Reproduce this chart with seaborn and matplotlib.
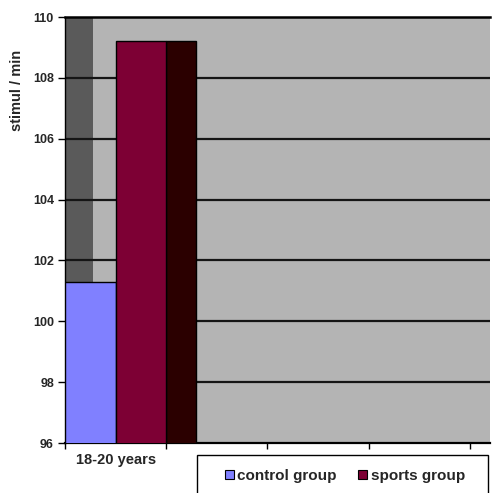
import matplotlib
matplotlib.use("Agg")
import matplotlib.pyplot as plt
from matplotlib.patches import Rectangle
import pandas as pd
import seaborn as sns

# Heart rate by age group
categories = ["18-20 years"]
groups = ["control group", "sports group"]
control_values = [101.3]
sports_values = [109.2]
y_ticks = [96, 98, 100, 102, 104, 106, 108, 110]

colors = {"control group": "#8080ff", "sports group": "#7d0034"}
side_color = "#2b0000"
wall_color = "#5a5a5a"
back_color = "#b4b4b4"

df = pd.DataFrame({
    "age": categories * 2,
    "group": [groups[0]] * len(categories) + [groups[1]] * len(categories),
    "rate": control_values + sports_values,
})

sns.set_style("white")
plt.rcParams["font.family"] = ["Liberation Sans", "DejaVu Sans"]
plt.rcParams["font.weight"] = "bold"

W, H = 492, 493
fig = plt.figure(figsize=(W / 100, H / 100), dpi=100)
left, right, top, bottom = 65, 490, 17, 443
ax = fig.add_axes([left / W, 1 - bottom / H, (right - left) / W, (bottom - top) / H])
ax.set_facecolor(back_color)

sns.barplot(data=df, x="age", y="rate", hue="group", hue_order=groups,
            palette=colors, width=1.0, edgecolor="black", linewidth=1.0,
            saturation=1, legend=False, ax=ax, zorder=3)

ax.set_ylim(y_ticks[0], y_ticks[-1])
ax.set_xlim(-0.5, 3.7)

# dark left side wall
depth = 0.28
ax.add_patch(Rectangle((-0.5, y_ticks[0]), depth, y_ticks[-1] - y_ticks[0],
                       facecolor=wall_color, edgecolor="none", zorder=0.5))

# gridlines across walls, behind bars
for v in y_ticks[1:-1]:
    ax.axhline(v, color="#151515", lw=1.6, zorder=1)

# shaded side face of the sports bar
bars = [p for p in ax.patches if isinstance(p, Rectangle) and p.get_width() < 0.9 and p.get_height() > 50]
sports_bar = max(bars, key=lambda p: p.get_x())
x_edge = sports_bar.get_x() + sports_bar.get_width()
ax.add_patch(Rectangle((x_edge, 0), 0.297, sports_bar.get_height(),
                       facecolor=side_color, edgecolor="black", lw=1.0, zorder=2.9))

ax.set_yticks(y_ticks)
ax.set_yticklabels([str(t) for t in y_ticks], fontsize=9, fontweight="bold")
ax.tick_params(axis="y", length=5, width=1, direction="out", pad=3, color="black", left=True)

ax.set_xticks([0])
ax.set_xticklabels(categories, fontsize=10.5, fontweight="bold")
ax.set_xticks([-0.5, 0.5, 1.5, 2.5, 3.5], minor=True)
ax.tick_params(axis="x", which="major", length=0, pad=7)
ax.tick_params(axis="x", which="minor", length=4, width=1, direction="out", color="black", bottom=True)
ax.set_xlabel("")
ax.set_ylabel("")

for s in ["top", "bottom", "left"]:
    ax.spines[s].set_visible(True)
    ax.spines[s].set_color("black")
ax.spines["top"].set_linewidth(1.8)
ax.spines["bottom"].set_linewidth(1.6)
ax.spines["left"].set_linewidth(1.0)
ax.spines["right"].set_visible(False)

fig.text(17 / W, 1 - 90 / H, "stimul / min", rotation=90, ha="center", va="center",
         fontsize=10.5, fontweight="bold")

# legend frame (runs off the bottom edge)
fig.patches.append(Rectangle((197 / W, -0.05), (488 - 197) / W, 0.05 + (H - 455) / H,
                             transform=fig.transFigure, facecolor="white",
                             edgecolor="black", lw=1.0, zorder=5))
handles = [Rectangle((0, 0), 1, 1, facecolor=colors[g], edgecolor="black", lw=0.8) for g in groups]
leg = fig.legend(handles, groups, loc="center", bbox_to_anchor=(345 / W, 1 - 476 / H),
                 ncol=2, frameon=False, handlelength=0.6, handleheight=0.6,
                 handletextpad=0.2, columnspacing=1.4,
                 prop={"weight": "bold", "size": 11})
leg.set_zorder(6)

fig.savefig("out.png", dpi=100)
